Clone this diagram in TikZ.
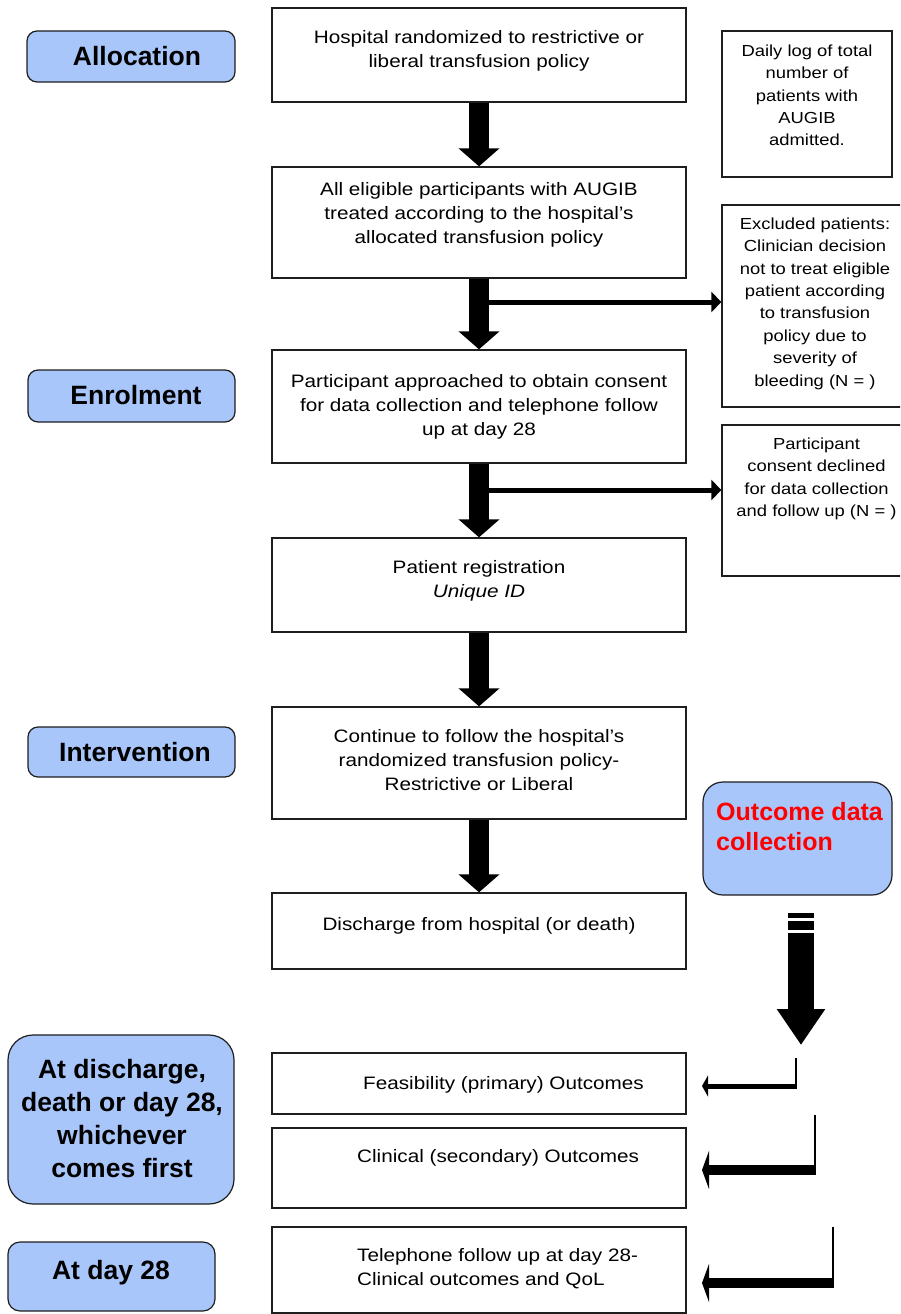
\documentclass[tikz,border=0pt]{standalone}
\usepackage{fontspec}
\setmainfont{Liberation Sans}
\newfontfamily\widef[FakeStretch=1.15]{Liberation Sans}
\usetikzlibrary{arrows.meta}
\definecolor{lblue}{RGB}{168,198,250}
\definecolor{edge}{RGB}{30,30,30}
\begin{document}
\begin{tikzpicture}[x=1pt,y=-1pt,
  mainbox/.style={draw=edge,line width=1.3pt,rectangle,inner sep=0pt,minimum width=414pt},
  sidebox/.style={draw=edge,line width=1.3pt,rectangle,inner sep=0pt},
  lbox/.style={draw=edge,fill=lblue,line width=1.2pt,rectangle,inner sep=0pt},
  maintext/.style={font=\widef\fontsize{18}{24}\selectfont,align=center,inner sep=0pt},
  sidetext/.style={font=\widef\fontsize{16}{22.4}\selectfont,align=center,inner sep=0pt},
  lbltext/.style={font=\bfseries\fontsize{26.5}{32.7}\selectfont,align=center,inner sep=0pt},
  bigarrow/.style={draw=black,line width=20pt,-{Triangle[width=40pt,length=18pt]}},
  branch/.style={draw=black,line width=5pt,-{Triangle[width=20pt,length=10pt]}},
  thinstem/.style={draw=black,line width=2pt}]
\useasboundingbox (0,0) rectangle (900,1314);
\fill[white] (0,0) rectangle (900,1314);
\clip (0,0) rectangle (900,1314);

% main column boxes
\node[mainbox,minimum height=94pt] (b1) at (479,55) {};
\node[maintext,anchor=north] (t1) at (479,30.5) {Hospital randomized to restrictive or\\liberal transfusion policy};
\node[mainbox,minimum height=111pt] (b2) at (479,222.5) {};
\node[maintext,anchor=north] (t2) at (479,182) {All eligible participants with AUGIB\\treated according to the hospital’s\\allocated transfusion policy};
\node[mainbox,minimum height=113pt] (b3) at (479,406.5) {};
\node[maintext,anchor=north] (t3) at (479,374) {Participant approached to obtain consent\\for data collection and telephone follow\\up at day 28};
\node[mainbox,minimum height=94pt] (b4) at (479,585) {};
\node[maintext,anchor=north] (t4) at (479,560.5) {Patient registration\\\itshape Unique ID};
\node[mainbox,minimum height=112pt] (b5) at (479,763) {};
\node[maintext,anchor=north] (t5) at (479,729) {Continue to follow the hospital’s\\randomized transfusion policy-\\Restrictive or Liberal};
\node[mainbox,minimum height=76pt] (b6) at (479,931) {};
\node[maintext,anchor=north] (t6) at (479,917) {Discharge from hospital (or death)};
\node[mainbox,minimum height=61pt] (b7) at (479,1083.5) {};
\node[maintext,anchor=base west] (t7) at (363,1089) {Feasibility (primary) Outcomes};
\node[mainbox,minimum height=80pt] (b8) at (479,1168) {};
\node[maintext,anchor=base west] (t8) at (357,1162) {Clinical (secondary) Outcomes};
\node[mainbox,minimum height=86pt] (b9) at (479,1270) {};
\node[maintext,anchor=north west,align=left] (t9) at (357,1248) {Telephone follow up at day 28-\\Clinical outcomes and QoL};

% side boxes
\node[sidebox,minimum width=170pt,minimum height=146pt] (daily) at (807,104) {};
\node[sidetext,anchor=north] (dailyt) at (807,44.5) {Daily log of total\\number of\\patients with\\AUGIB\\admitted.};
\node[sidebox,minimum width=186pt,minimum height=202pt] (excl) at (815,306) {};
\node[sidetext,anchor=north] (exclt) at (815,217.5) {Excluded patients:\\Clinician decision\\not to treat eligible\\patient according\\to transfusion\\policy due to\\severity of\\bleeding (N = )};
\node[sidebox,minimum width=188pt,minimum height=151pt] (cons) at (816,500.5) {};
\node[sidetext,anchor=north] (const) at (816.5,437.5) {Participant\\consent declined\\for data collection\\and follow up (N = )};

% left stage labels
\node[lbox,rounded corners=10pt,minimum width=208pt,minimum height=51pt] (alloc) at (131,56.5) {};
\node[lbltext,anchor=base] (alloct) at (137,66) {Allocation};
\node[lbox,rounded corners=10pt,minimum width=207pt,minimum height=52pt] (enrol) at (131.5,396) {};
\node[lbltext,anchor=base] (enrolt) at (136,404.5) {Enrolment};
\node[lbox,rounded corners=10pt,minimum width=207pt,minimum height=50pt] (interv) at (131.5,752) {};
\node[lbltext,anchor=base] (intervt) at (135,761.5) {Intervention};
\node[lbox,rounded corners=25pt,minimum width=226pt,minimum height=169pt] (disch) at (121,1119.5) {};
\node[lbltext,anchor=north] (discht) at (122,1059.5) {At discharge,\\death or day 28,\\whichever\\comes first};
\node[lbox,rounded corners=12pt,minimum width=207pt,minimum height=69pt] (day) at (111.5,1276.5) {};
\node[lbltext,anchor=base] (dayt) at (111,1279) {At day 28};
\node[lbox,rounded corners=20pt,minimum width=189pt,minimum height=113pt] (outc) at (797.5,838.5) {};
\node[font=\bfseries\fontsize{25}{30}\selectfont,text=red,align=left,inner sep=0pt,anchor=north west] (outct) at (716,802) {Outcome data\\collection};

% main flow arrows
\draw[bigarrow] (b1.south) -- (b2.north);
\draw[bigarrow] (b2.south) -- (b3.north);
\draw[bigarrow] (b3.south) -- (b4.north);
\draw[bigarrow] (b4.south) -- (b5.north);
\draw[bigarrow] (b5.south) -- (b6.north);

% branches to excluded boxes
\coordinate (br1) at (479,302);
\coordinate (br2) at (479,490);
\draw[branch] (br1) -- (br1 -| excl.west);
\draw[branch] (br2) -- (br2 -| cons.west);

% outcome data collection arrow
\fill[black] (788,913) rectangle (814,918);
\fill[black] (788,921) rectangle (814,930);
\coordinate (oa) at (801,933);
\coordinate (ob) at (801,1045);
\draw[draw=black,line width=26pt,-{Triangle[width=46pt,length=36pt]}] (oa) -- (ob);

% bent arrows to outcome boxes
\coordinate (c1a) at (796,1058);
\coordinate (c1b) at (796,1088.5);
\coordinate (c1c) at (797,1086);
\coordinate (c1d) at (702,1086);
\draw[thinstem] (c1a) -- (c1b);
\draw[draw=black,line width=5pt,-{Triangle[width=21pt,length=6pt]}] (c1c) -- (c1d);

\coordinate (c2a) at (815,1115);
\coordinate (c2b) at (815,1175);
\coordinate (c2c) at (816,1170);
\coordinate (c2d) at (702,1170);
\draw[thinstem] (c2a) -- (c2b);
\draw[draw=black,line width=10pt,-{Triangle[width=38pt,length=7pt]}] (c2c) -- (c2d);

\coordinate (c3a) at (833,1227);
\coordinate (c3b) at (833,1288);
\coordinate (c3c) at (834,1283);
\coordinate (c3d) at (702,1283);
\draw[thinstem] (c3a) -- (c3b);
\draw[draw=black,line width=10pt,-{Triangle[width=38pt,length=7pt]}] (c3c) -- (c3d);
\end{tikzpicture}
\end{document}
